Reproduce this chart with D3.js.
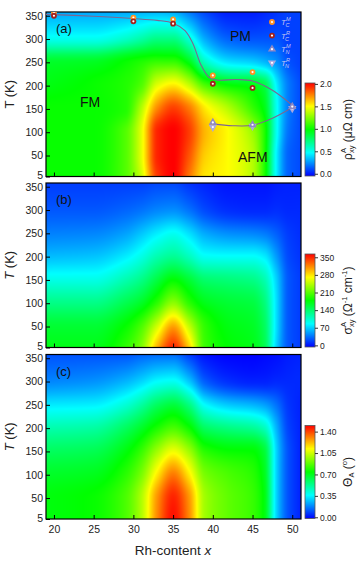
<!DOCTYPE html>
<html>
<head>
<meta charset="utf-8">
<script src="https://cdn.jsdelivr.net/npm/d3@7"></script>
<style>
  body { margin: 0; background: #fff; }
  svg { font-family: "Liberation Sans", Arial, sans-serif; }
</style>
</head>
<body>
<div id="chart"></div>
<script>
// grid the maps were read on (Rh-content x, temperature T)
const rhCont = [19, 25, 29, 31, 33, 35, 37, 39, 42, 45, 46.5, 48, 49.5, 51];
const temps = [5, 50, 100, 150, 200, 250, 300, 360];

// anomalous Hall resistivity (uOhm cm), one row per temperature
const rhoA = [
  [1.00, 1.00, 1.15, 1.40, 1.90, 2.02, 1.78, 1.55, 1.50, 1.35, 1.05, 0.45, 0.15, 0.10],
  [1.00, 1.00, 1.15, 1.45, 1.95, 2.02, 1.85, 1.60, 1.50, 1.35, 1.05, 0.45, 0.15, 0.10],
  [1.00, 1.00, 1.15, 1.45, 1.95, 2.02, 1.90, 1.65, 1.50, 1.30, 1.05, 0.50, 0.18, 0.10],
  [1.00, 1.00, 1.05, 1.35, 1.75, 1.90, 1.78, 1.55, 1.35, 1.10, 0.95, 0.50, 0.20, 0.10],
  [0.95, 1.00, 1.05, 1.15, 1.45, 1.55, 1.40, 1.15, 1.00, 0.95, 0.85, 0.45, 0.20, 0.10],
  [0.90, 0.92, 1.00, 1.05, 1.10, 1.10, 0.95, 0.60, 0.42, 0.38, 0.33, 0.25, 0.12, 0.08],
  [0.50, 0.50, 0.58, 0.65, 0.72, 0.72, 0.55, 0.30, 0.15, 0.12, 0.12, 0.12, 0.08, 0.08],
  [0.28, 0.28, 0.28, 0.30, 0.30, 0.28, 0.18, 0.08, 0.00, 0.00, 0.02, 0.05, 0.08, 0.08]
];

// anomalous Hall conductivity (1/(Ohm cm))
const sigmaA = [
  [170, 170, 195, 225, 300, 350, 290, 200, 178, 170, 150, 70, 25, 15],
  [160, 160, 180, 205, 255, 305, 250, 195, 172, 165, 145, 75, 25, 15],
  [130, 130, 150, 165, 195, 230, 195, 170, 160, 155, 135, 75, 25, 15],
  [95, 95, 115, 130, 155, 178, 160, 140, 135, 130, 115, 70, 25, 15],
  [62, 65, 80, 95, 115, 125, 110, 90, 88, 88, 80, 50, 20, 12],
  [40, 42, 52, 65, 80, 90, 75, 55, 45, 42, 38, 28, 15, 10],
  [25, 25, 30, 35, 42, 45, 35, 20, 10, 8, 8, 10, 8, 8],
  [15, 15, 15, 15, 18, 18, 10, 5, 0, 0, 0, 3, 5, 5]
];

// anomalous Hall angle (deg)
const thetaA = [
  [0.72, 0.75, 0.85, 1.00, 1.30, 1.48, 1.30, 0.98, 0.88, 0.82, 0.72, 0.30, 0.10, 0.03],
  [0.72, 0.75, 0.85, 1.00, 1.28, 1.45, 1.28, 0.98, 0.88, 0.82, 0.72, 0.30, 0.10, 0.03],
  [0.68, 0.70, 0.80, 0.92, 1.15, 1.32, 1.15, 0.92, 0.85, 0.80, 0.70, 0.30, 0.10, 0.03],
  [0.60, 0.62, 0.72, 0.82, 0.98, 1.10, 0.98, 0.80, 0.75, 0.74, 0.66, 0.30, 0.10, 0.03],
  [0.48, 0.50, 0.60, 0.68, 0.78, 0.85, 0.76, 0.60, 0.55, 0.52, 0.46, 0.25, 0.08, 0.03],
  [0.33, 0.34, 0.42, 0.50, 0.60, 0.65, 0.55, 0.36, 0.28, 0.25, 0.22, 0.15, 0.06, 0.03],
  [0.18, 0.20, 0.25, 0.30, 0.36, 0.38, 0.28, 0.12, 0.05, 0.03, 0.03, 0.04, 0.04, 0.04],
  [0.10, 0.10, 0.10, 0.12, 0.13, 0.13, 0.06, 0.00, -0.02, -0.02, -0.01, 0.00, 0.02, 0.03]
];

// tick labels
const xTicks = [20, 25, 30, 35, 40, 45, 50];
const tTicks = [5, 50, 100, 150, 200, 250, 300, 350];
const rhoTicks = [0, 0.5, 1, 1.5, 2];
const sigmaTicks = [0, 70, 140, 210, 280, 350];
const thetaTicks = [0, 0.35, 0.7, 1.05, 1.4];

// transition temperatures, panel (a)
const tcX = [20, 30, 35, 40, 45];
const tcM = [357, 346, 342, 222, 229];
const tcR = [350, 338, 333, 204, 195];
const tnX = [40, 45, 50];
const tnM = [121, 116, 155];
const tnR = [111, 113, 151];

// guide lines through the phase boundaries
const upperX = [19, 25, 30, 33, 35, 36.5, 37.5, 38.5, 39.5, 40.5, 43, 45, 47.5, 50];
const upperT = [353, 349, 344, 340, 334, 318, 290, 245, 218, 212, 213, 210, 190, 158];
const lowerX = [40, 42.5, 45, 47.5, 50];
const lowerT = [118, 114, 115, 130, 153];

const W = 357, H = 562;
const plotL = 46, plotR = 301, panelH = 164.5;
const tops = [12, 183, 354.5];

const svg = d3.select("#chart").append("svg")
    .attr("width", W)
    .attr("height", H);

const x = d3.scaleLinear().domain([19, 51.1]).range([plotL, plotR]);

const rainbow = d3.scaleLinear()
    .domain([0, 0.25, 0.5, 0.75, 1])
    .range(["#0000ff", "#00ffff", "#00ff00", "#ffff00", "#ff0000"])
    .clamp(true);

// monotone cubic (Fritsch-Carlson) for smooth shading between grid values
function smooth(xs, ys, v) {
    const n = xs.length;
    if (v <= xs[0]) return ys[0];
    if (v >= xs[n - 1]) return ys[n - 1];
    const d = [], m = [];
    for (let k = 0; k < n - 1; k++) d.push((ys[k + 1] - ys[k]) / (xs[k + 1] - xs[k]));
    m[0] = d[0]; m[n - 1] = d[n - 2];
    for (let k = 1; k < n - 1; k++) {
        if (d[k - 1] * d[k] <= 0) { m[k] = 0; continue; }
        const h0 = xs[k] - xs[k - 1], h1 = xs[k + 1] - xs[k];
        const w1 = 2 * h1 + h0, w2 = h1 + 2 * h0;
        m[k] = (w1 + w2) / (w1 / d[k - 1] + w2 / d[k]);
    }
    let i = 0;
    while (v > xs[i + 1]) i++;
    const h = xs[i + 1] - xs[i], t = (v - xs[i]) / h;
    const t2 = t * t, t3 = t2 * t;
    return (2 * t3 - 3 * t2 + 1) * ys[i] + (t3 - 2 * t2 + t) * h * m[i]
         + (-2 * t3 + 3 * t2) * ys[i + 1] + (t3 - t2) * h * m[i + 1];
}

const panels = [
    { grid: rhoA, cDomain: [-0.05, 2.02], cTicks: rhoTicks, fmt: ".1f", tag: "(a)", top: tops[0] },
    { grid: sigmaA, cDomain: [-6.5, 363], cTicks: sigmaTicks, fmt: "d", tag: "(b)", top: tops[1] },
    { grid: thetaA, cDomain: [-0.02, 1.5], cTicks: thetaTicks, fmt: ".2f", tag: "(c)", top: tops[2] }
];

const defs = svg.append("defs");

panels.forEach((p, pi) => {
    const y = d3.scaleLinear().domain([5, 358]).range([p.top + panelH, p.top]);
    p.y = y;
    const c = d3.scaleLinear().domain(p.cDomain).range([0, 1]);

    // heat map drawn into a canvas, then placed as an image
    const w = Math.round(plotR - plotL), h = Math.round(panelH);
    const canvas = document.createElement("canvas");
    canvas.width = w; canvas.height = h;
    const ctx = canvas.getContext("2d");
    const img = ctx.createImageData(w, h);
    for (let px = 0; px < w; px++) {
        const xv = x.invert(plotL + (px + 0.5) * (plotR - plotL) / w);
        const col = p.grid.map(row => smooth(rhCont, row, xv));
        for (let py = 0; py < h; py++) {
            const tv = y.invert(p.top + (py + 0.5) * panelH / h);
            const v = smooth(temps, col, tv);
            const rgb = d3.rgb(rainbow(c(v)));
            const idx = (py * w + px) * 4;
            img.data[idx] = rgb.r; img.data[idx + 1] = rgb.g;
            img.data[idx + 2] = rgb.b; img.data[idx + 3] = 255;
        }
    }
    ctx.putImageData(img, 0, 0);

    svg.append("image")
        .attr("x", plotL).attr("y", p.top)
        .attr("width", plotR - plotL).attr("height", panelH)
        .attr("preserveAspectRatio", "none")
        .attr("href", canvas.toDataURL());

    // axes, ticks pointing inward
    const yAxis = d3.axisLeft(y).tickValues(tTicks).tickSizeInner(-4).tickSizeOuter(0).tickPadding(3);
    const gy = svg.append("g").attr("transform", "translate(" + plotL + ",0)").call(yAxis);
    const xAxis = d3.axisBottom(x).tickValues(xTicks).tickSizeInner(-4).tickSizeOuter(0).tickPadding(7);
    if (pi < 2) xAxis.tickFormat("");
    const gx = svg.append("g").attr("transform", "translate(0," + (p.top + panelH) + ")").call(xAxis);
    [gx, gy].forEach(g => {
        g.select(".domain").remove();
        g.selectAll("line").attr("stroke", "#000").attr("stroke-width", 1);
        g.selectAll("text").attr("font-size", 10.5).attr("fill", "#222")
            .attr("font-family", "Liberation Sans, Arial, sans-serif");
    });
    // nudge the bottom "5" up a little so it clears the next panel's 350
    gy.selectAll(".tick").filter(d => d === 5).select("text").attr("dy", "0.2em");

    svg.append("rect")
        .attr("x", plotL).attr("y", p.top)
        .attr("width", plotR - plotL).attr("height", panelH)
        .attr("fill", "none").attr("stroke", "#000").attr("stroke-width", 1.2);

    svg.append("text")
        .attr("x", 56).attr("y", p.top + 21)
        .attr("font-size", 13).attr("fill", "#111")
        .text(p.tag);

    // y label
    const yl = svg.append("text")
        .attr("transform", "translate(14," + (p.top + panelH / 2) + ") rotate(-90)")
        .attr("text-anchor", "middle")
        .attr("font-size", 13).attr("fill", "#222");
    yl.append("tspan").attr("font-style", pi === 0 ? "normal" : "italic").text("T");
    yl.append("tspan").text(" (K)");

    // colour bar
    const barTop = p.top + panelH - 93.5, barBot = p.top + panelH - 0.5;
    const barL = 305, barW = 10;
    const cb = d3.scaleLinear().domain(p.cDomain).range([barBot, barTop]);
    const grad = defs.append("linearGradient")
        .attr("id", "grad" + pi)
        .attr("x1", 0).attr("y1", 1).attr("x2", 0).attr("y2", 0);
    d3.range(0, 1.0001, 0.125).forEach(s => {
        grad.append("stop").attr("offset", s).attr("stop-color", rainbow(s));
    });
    svg.append("rect")
        .attr("x", barL).attr("y", barTop)
        .attr("width", barW).attr("height", barBot - barTop)
        .attr("fill", "url(#grad" + pi + ")")
        .attr("stroke", "#555").attr("stroke-width", 0.8);
    const cAxis = d3.axisRight(cb).tickValues(p.cTicks).tickSizeInner(3).tickSizeOuter(0)
        .tickPadding(2).tickFormat(d3.format(p.fmt));
    const gc = svg.append("g").attr("transform", "translate(" + (barL + barW) + ",0)").call(cAxis);
    gc.select(".domain").remove();
    gc.selectAll("line").attr("stroke", "#333");
    gc.selectAll("text").attr("font-size", 8.5).attr("fill", "#222")
        .attr("font-family", "Liberation Sans, Arial, sans-serif");
    p.barMid = (barTop + barBot) / 2;
});

// colour bar titles
function barTitle(cy) {
    return svg.append("text")
        .attr("transform", "translate(348," + cy + ") rotate(-90)")
        .attr("text-anchor", "middle")
        .attr("dominant-baseline", "central")
        .attr("font-size", 12).attr("fill", "#222");
}
let bt = barTitle(panels[0].barMid);
bt.append("tspan").text("ρ");
bt.append("tspan").attr("font-size", 7.5).attr("dy", -5).text("A");
bt.append("tspan").attr("font-size", 7.5).attr("dx", -5).attr("dy", 8).text("xy");
bt.append("tspan").attr("dy", -3).text(" (μΩ cm)");

bt = barTitle(panels[1].barMid);
bt.append("tspan").text("σ");
bt.append("tspan").attr("font-size", 7.5).attr("dy", -5).text("A");
bt.append("tspan").attr("font-size", 7.5).attr("dx", -5).attr("dy", 8).text("xy");
bt.append("tspan").attr("dy", -3).text(" (Ω");
bt.append("tspan").attr("font-size", 7.5).attr("dy", -4).text("-1");
bt.append("tspan").attr("dy", 4).text(" cm");
bt.append("tspan").attr("font-size", 7.5).attr("dy", -4).text("-1");
bt.append("tspan").attr("dy", 4).text(")");

bt = barTitle(panels[2].barMid);
bt.append("tspan").text("Θ");
bt.append("tspan").attr("font-size", 7.5).attr("dy", 3).text("A");
bt.append("tspan").attr("dy", -3).text(" (");
bt.append("tspan").attr("font-size", 7.5).attr("dy", -4).text("o");
bt.append("tspan").attr("dy", 4).text(")");

// x label
const xl = svg.append("text")
    .attr("x", 173).attr("y", 555)
    .attr("text-anchor", "middle")
    .attr("font-size", 13.5).attr("fill", "#222");
xl.append("tspan").text("Rh-content ");
xl.append("tspan").attr("font-style", "italic").text("x");

// phase boundaries and markers in panel (a)
const ya = panels[0].y;
const line = d3.line().x(d => x(d[0])).y(d => ya(d[1])).curve(d3.curveCatmullRom);
const clip = defs.append("clipPath").attr("id", "clipA");
clip.append("rect").attr("x", plotL).attr("y", tops[0]).attr("width", plotR - plotL).attr("height", panelH);

const ga = svg.append("g").attr("clip-path", "url(#clipA)");
[[upperX, upperT], [lowerX, lowerT]].forEach(([xs, ts]) => {
    ga.append("path")
        .attr("d", line(xs.map((v, i) => [v, ts[i]])))
        .attr("fill", "none").attr("stroke", "#7d6690").attr("stroke-width", 1.1);
});

const styles = {
    tcM: { fill: "#ff9222", shape: "circle" },
    tcR: { fill: "#a3221c", shape: "circle" },
    tnM: { fill: "#8e88c4", shape: "up" },
    tnR: { fill: "#aca8de", shape: "down" }
};

function marker(g, cx, cy, st) {
    if (st.shape === "circle") {
        g.append("circle").attr("cx", cx).attr("cy", cy).attr("r", 2.9).attr("fill", st.fill);
    } else {
        g.append("path")
            .attr("d", d3.symbol(d3.symbolTriangle, 30)())
            .attr("transform", "translate(" + cx + "," + cy + ")" + (st.shape === "down" ? " rotate(180)" : ""))
            .attr("fill", st.fill);
    }
    g.append("circle").attr("cx", cx).attr("cy", cy).attr("r", 1.1).attr("fill", "#fff");
}

tnX.forEach((v, i) => marker(ga, x(v), ya(tnR[i]), styles.tnR));
tnX.forEach((v, i) => marker(ga, x(v), ya(tnM[i]), styles.tnM));
tcX.forEach((v, i) => marker(ga, x(v), ya(tcM[i]), styles.tcM));
tcX.forEach((v, i) => marker(ga, x(v), ya(tcR[i]), styles.tcR));

// legend
const legend = [
    { st: styles.tcM, sub: "C", sup: "M" },
    { st: styles.tcR, sub: "C", sup: "R" },
    { st: styles.tnM, sub: "N", sup: "M" },
    { st: styles.tnR, sub: "N", sup: "R" }
];
legend.forEach((d, i) => {
    const ly = 22 + i * 13.6;
    marker(svg, 272, ly, d.st);
    const t = svg.append("text")
        .attr("x", 281).attr("y", ly + 3)
        .attr("font-size", 8).attr("font-style", "italic").attr("fill", "#c4c6f2");
    t.append("tspan").text("T");
    t.append("tspan").attr("font-size", 5.5).attr("dy", -4).text(d.sup);
    t.append("tspan").attr("font-size", 5.5).attr("dx", -5).attr("dy", 6).text(d.sub);
});

// phase labels
[["PM", 230, 41], ["FM", 80, 107], ["AFM", 238, 162]].forEach(([s, lx, ly]) => {
    svg.append("text").attr("x", lx).attr("y", ly)
        .attr("font-size", 14).attr("fill", "#111").text(s);
});
</script>
</body>
</html>
